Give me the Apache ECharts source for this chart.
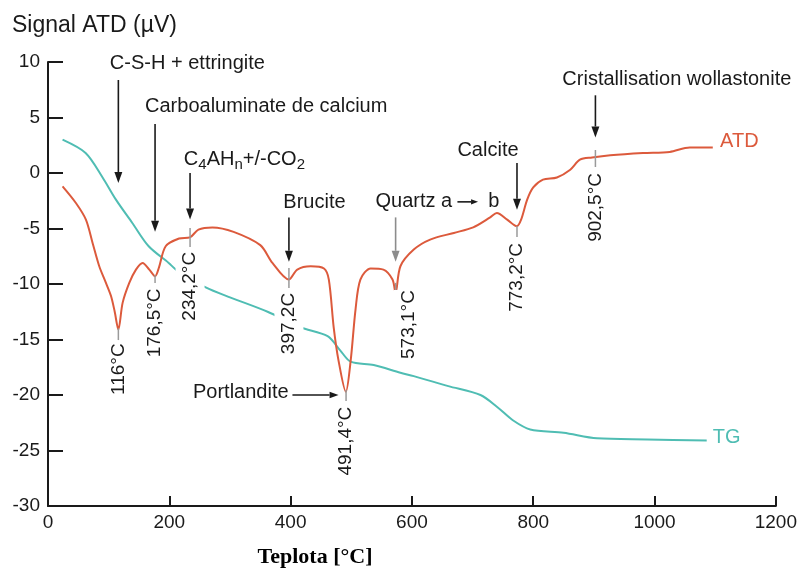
<!DOCTYPE html>
<html>
<head>
<meta charset="utf-8">
<script src="https://cdn.jsdelivr.net/npm/echarts@6/dist/echarts.min.js"></script>
<style>
  html, body { margin: 0; padding: 0; background: #fff; }
  #main { width: 800px; height: 569px; }
</style>
</head>
<body>
<div id="main"></div>
<script>
// Axis ticks
const xTicks = [0, 200, 400, 600, 800, 1000, 1200];
const yTicks = [-30, -25, -20, -15, -10, -5, 0, 5, 10];

// ATD curve (temperature °C, signal µV)
const atdTemp = [24, 46, 62.5, 73.5, 84.5, 95.5, 104, 110, 116, 123, 134, 145, 156, 167, 176.5, 183, 194, 216, 234, 248, 271, 306, 350, 370, 397, 411, 433, 455, 463, 471, 479, 491, 499, 507, 515, 532, 553, 568, 573, 581, 603, 630, 669, 701, 729, 740, 757, 773, 780, 790, 800, 816, 839, 861, 877, 897, 927, 981, 1025, 1058, 1096];
const atdSignal = [-1.2, -2.7, -4.2, -6.3, -8.4, -9.9, -11.1, -12.5, -14.1, -11.7, -9.9, -8.7, -8.1, -8.7, -9.3, -8.5, -6.6, -5.9, -5.8, -5.1, -4.9, -5.3, -6.5, -8.1, -9.6, -8.7, -8.4, -8.6, -9.6, -13.9, -16.9, -19.7, -16.9, -12.3, -9.6, -8.6, -8.7, -9.6, -10.8, -8.4, -6.9, -6.0, -5.4, -4.9, -4.0, -3.6, -4.2, -4.8, -4.2, -2.4, -1.3, -0.6, -0.4, 0.3, 1.2, 1.4, 1.6, 1.8, 1.9, 2.3, 2.3];

// TG curve (temperature °C, plotted on the same scale)
const tgTemp = [24, 62, 90, 112, 139, 166, 199, 211, 230, 260, 300, 362, 416, 461, 482, 499, 537, 581, 603, 660, 713, 741, 767, 795, 850, 905, 988, 1086];
const tgSignal = [3.0, 1.8, -0.4, -2.4, -4.5, -6.6, -8.1, -8.7, -9.3, -10.3, -11.2, -12.5, -13.9, -14.7, -16.0, -17.0, -17.3, -18.0, -18.3, -19.2, -20.0, -21.1, -22.3, -23.1, -23.4, -23.9, -24.0, -24.1];

// Peak temperatures and their labels
const peakTemps = [116, 176.5, 234.2, 397.2, 491.4, 573.1, 773.2, 902.5];
const peakLabels = ['116°C', '176,5°C', '234,2°C', '397,2C', '491,4°C', '573,1°C', '773,2°C', '902,5°C'];

// Peak marker layout: tick segment (top, bottom) and label anchor (x, top) in axis units
const peakTickTop    = [-14.0, -9.2, -4.95, -8.56, -19.55, -9.9, -4.77, 2.07];
const peakTickBottom = [-15.05, -9.9, -6.67, -10.36, -20.54, -11.9, -5.77, 0.54];
const peakLabelX     = [116, 176.5, 234.2, 397.2, 491.4, 594, 773.2, 902.5];
const peakLabelTop   = [-15.35, -10.4, -7.1, -10.8, -21.05, -10.55, -6.3, 0.0];

// Phase names
const noteTexts = [
  'C-S-H + ettringite',
  'Carboaluminate de calcium',
  '{n|C}{s|4}{n|AH}{s|n}{n|+/-CO}{s|2}',
  'Brucite',
  'Quartz a',
  'b',
  'Calcite',
  'Cristallisation wollastonite',
  'Portlandite',
  'ATD',
  'TG'
];
// Note layout: left edge (°C) and vertical centre (µV)
const noteX = [102, 160, 224, 388, 540, 726, 675, 848, 239, 1108, 1096];
const noteY = [9.9, 5.95, 1.2, -2.7, -2.6, -2.6, 2.07, 8.4, -19.8, 2.8, -23.8];
const noteColors = ['#1a1a1a', '#1a1a1a', '#1a1a1a', '#1a1a1a', '#1a1a1a', '#1a1a1a', '#1a1a1a', '#1a1a1a', '#1a1a1a', '#dc5a3c', '#4fbdb3'];

// Pointer arrows: start (°C, µV) -> tip (°C, µV)
const arrowFrom = [[116, 8.38], [176.5, 4.41], [234.2, 0.0], [397.2, -4.0], [573.1, -4.0], [773.2, 0.9], [902.5, 7.0], [403, -20.0], [675, -2.6]];
const arrowTo   = [[116, -0.9], [176.5, -5.3], [234.2, -4.2], [397.2, -8.0], [573.1, -8.0], [773.2, -3.3], [902.5, 3.2], [479, -20.0], [709, -2.6]];
const arrowColors = ['#1a1a1a', '#1a1a1a', '#1a1a1a', '#1a1a1a', '#8c8c8c', '#1a1a1a', '#1a1a1a', '#1a1a1a', '#1a1a1a'];
const arrowHead = [11, 11, 11, 11, 11, 11, 11, 9, 7];

const SANS = '"Liberation Sans", Arial, Helvetica, sans-serif';
const INK = '#1a1a1a';
const RED = '#dc5a3c';
const TEAL = '#4fbdb3';

const zip = (a, b) => a.map((v, i) => [v, b[i]]);

const chart = echarts.init(document.getElementById('main'), null, { renderer: 'canvas' });

const axisCommon = {
  axisLine: { show: true, onZero: false, lineStyle: { color: INK, width: 2 } },
  axisTick: { show: true, inside: true, lineStyle: { color: INK, width: 2 } },
  splitLine: { show: false },
  axisLabel: { color: INK, fontSize: 19, fontFamily: SANS, formatter: v => String(v) }
};

chart.setOption({
  animation: false,
  backgroundColor: '#fff',
  grid: { left: 48, right: 24, top: 62, bottom: 63, containLabel: false },
  xAxis: Object.assign({}, axisCommon, {
    type: 'value',
    min: xTicks[0], max: xTicks[xTicks.length - 1], interval: xTicks[1] - xTicks[0],
    axisTick: Object.assign({}, axisCommon.axisTick, { length: 10 }),
    axisLabel: Object.assign({}, axisCommon.axisLabel, { margin: 7 })
  }),
  yAxis: Object.assign({}, axisCommon, {
    type: 'value',
    min: yTicks[0], max: yTicks[yTicks.length - 1], interval: yTicks[1] - yTicks[0],
    axisTick: Object.assign({}, axisCommon.axisTick, { length: 15 }),
    axisLabel: Object.assign({}, axisCommon.axisLabel, { margin: 8 })
  }),
  graphic: [
    { type: 'text', x: 12, y: 26, style: { text: 'Signal ATD (µV)', fill: INK, fontSize: 23, fontFamily: SANS, verticalAlign: 'middle' } },
    { type: 'text', x: 315, y: 557, style: { text: 'Teplota [°C]', fill: '#000', fontSize: 22, fontWeight: 'bold', fontFamily: '"Liberation Serif", "Times New Roman", serif', align: 'center', verticalAlign: 'middle' } }
  ],
  series: [
    {
      name: 'TG', type: 'line', data: zip(tgTemp, tgSignal),
      showSymbol: false, smooth: 0.3, z: 2,
      lineStyle: { color: TEAL, width: 2 }
    },
    {
      name: 'ATD', type: 'line', data: zip(atdTemp, atdSignal),
      showSymbol: false, smooth: 0.3, z: 3,
      lineStyle: { color: RED, width: 2 }
    },
    {
      // temperature markers at the peaks
      type: 'custom', coordinateSystem: 'cartesian2d', clip: false, silent: true, z: 6,
      encode: { x: [0, 3], y: [1, 2, 4] },
      data: peakTemps.map((t, i) => [t, peakTickTop[i], peakTickBottom[i], peakLabelX[i], peakLabelTop[i]]),
      renderItem(params, api) {
        const i = params.dataIndex;
        const a = api.coord([api.value(0), api.value(1)]);
        const b = api.coord([api.value(0), api.value(2)]);
        const c = api.coord([api.value(3), api.value(4)]);
        return {
          type: 'group',
          children: [
            { type: 'line', shape: { x1: a[0], y1: a[1], x2: b[0], y2: b[1] }, style: { stroke: '#9a9a9a', lineWidth: 1.5 } },
            {
              type: 'text', x: c[0], y: c[1], rotation: Math.PI / 2,
              style: {
                text: peakLabels[i], fill: INK, fontSize: 19, fontFamily: SANS,
                align: 'right', verticalAlign: 'middle',
                backgroundColor: '#fff', padding: [5, 0, 5, 0]
              }
            }
          ]
        };
      }
    },
    {
      // pointer arrows
      type: 'custom', coordinateSystem: 'cartesian2d', clip: false, silent: true, z: 5,
      encode: { x: [0, 2], y: [1, 3] },
      data: arrowFrom.map((f, i) => [f[0], f[1], arrowTo[i][0], arrowTo[i][1]]),
      renderItem(params, api) {
        const i = params.dataIndex;
        const p1 = api.coord([api.value(0), api.value(1)]);
        const p2 = api.coord([api.value(2), api.value(3)]);
        const ang = Math.atan2(p2[1] - p1[1], p2[0] - p1[0]);
        const L = arrowHead[i], W = L * 0.36;
        const base = [p2[0] - L * Math.cos(ang), p2[1] - L * Math.sin(ang)];
        const left = [base[0] + W * Math.sin(ang), base[1] - W * Math.cos(ang)];
        const right = [base[0] - W * Math.sin(ang), base[1] + W * Math.cos(ang)];
        const col = arrowColors[i];
        return {
          type: 'group',
          children: [
            { type: 'line', shape: { x1: p1[0], y1: p1[1], x2: base[0], y2: base[1] }, style: { stroke: col, lineWidth: 1.6 } },
            { type: 'polygon', shape: { points: [p2, left, right] }, style: { fill: col } }
          ]
        };
      }
    },
    {
      // phase names and curve names
      type: 'custom', coordinateSystem: 'cartesian2d', clip: false, silent: true, z: 5,
      encode: { x: 0, y: 1 },
      data: zip(noteX, noteY),
      renderItem(params, api) {
        const i = params.dataIndex;
        const p = api.coord([api.value(0), api.value(1)]);
        return {
          type: 'text', x: p[0], y: p[1],
          style: {
            text: noteTexts[i], fill: noteColors[i], fontSize: 20, fontFamily: SANS,
            align: 'left', verticalAlign: 'middle',
            rich: {
              n: { fontSize: 20, fontFamily: SANS, fill: INK },
              s: { fontSize: 15, fontFamily: SANS, fill: INK, padding: [10, 0, 0, 0] }
            }
          }
        };
      }
    }
  ]
});
</script>
</body>
</html>
